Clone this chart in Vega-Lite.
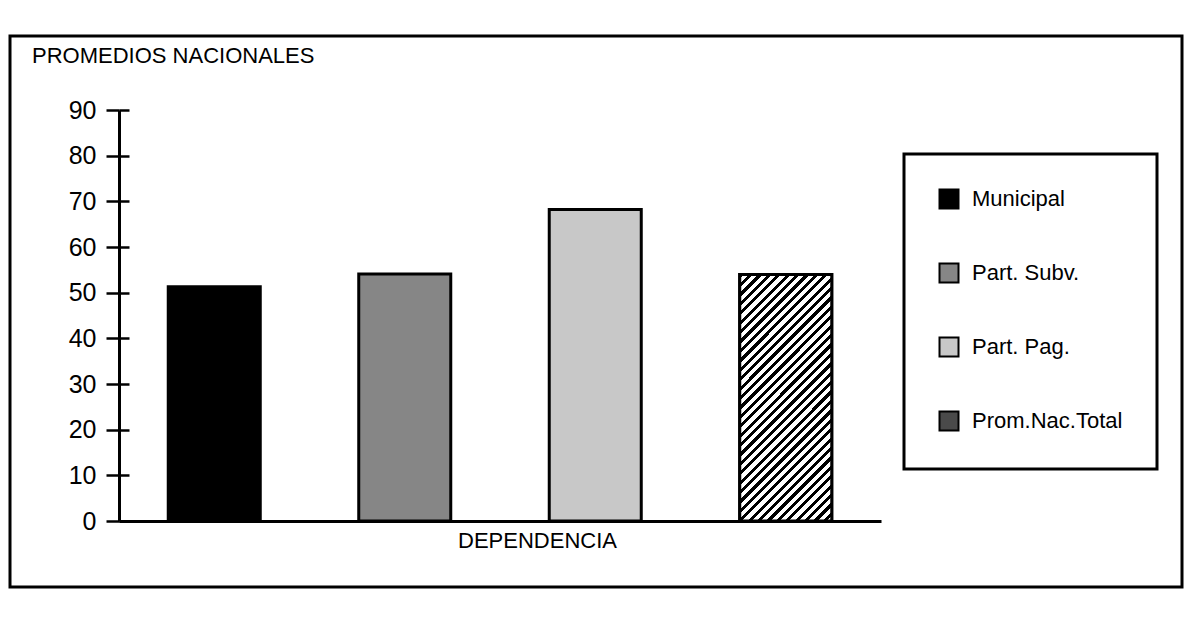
{
  "$schema": "https://vega.github.io/schema/vega-lite/v6.json",
  "width": 1172,
  "height": 551,
  "autosize": {"type": "none"},
  "padding": {"left": 10, "top": 36, "right": 12, "bottom": 32},
  "background": "white",
  "title": {"text": "PROMEDIOS NACIONALES", "anchor": "start", "frame": "group", "orient": "top", "offset": 0, "dx": 22, "dy": 54, "fontSize": 22, "font": "Liberation Sans", "fontWeight": "normal", "color": "black", "baseline": "bottom"},
  "data": {"values": [
    {"dependencia": "Municipal", "promedio": 51.3},
    {"dependencia": "Part. Subv.", "promedio": 54.1},
    {"dependencia": "Part. Pag.", "promedio": 68.2},
    {"dependencia": "Prom.Nac.Total", "promedio": 54.0}
  ]},
  "layer": [
    {
      "mark": {"type": "bar", "stroke": "black", "strokeWidth": 3, "opacity": 1},
      "encoding": {
        "x": {"field": "dependencia", "type": "nominal", "sort": null,
          "scale": {"range": [109, 871], "paddingInner": 0.517, "paddingOuter": 0.2585},
          "axis": {"orient": "bottom", "offset": -66, "labels": false, "ticks": false, "domain": true, "domainColor": "black", "domainWidth": 3, "grid": false,
            "title": "DEPENDENCIA", "titleX": 527, "titleY": 19, "titleBaseline": "middle", "titleAlign": "center", "titleFontSize": 22, "titleFontWeight": "normal", "titleFont": "Liberation Sans", "titleColor": "black"}},
        "y": {"field": "promedio", "type": "quantitative",
          "scale": {"domain": [0, 90], "range": [485, 74], "nice": false},
          "axis": {"orient": "left", "offset": -109, "values": [0, 10, 20, 30, 40, 50, 60, 70, 80, 90], "tickSize": 13, "tickWidth": 2.5, "tickColor": "black", "domainColor": "black", "domainWidth": 3, "labelFontSize": 25, "labelPadding": 10, "labelColor": "black", "labelFont": "Liberation Sans", "title": null, "grid": false}},
        "color": {"field": "dependencia", "type": "nominal",
          "scale": {"domain": ["Municipal", "Part. Subv.", "Part. Pag.", "Prom.Nac.Total"],
            "range": ["#000000", "#868686", "#c8c8c8", "#4a4a4a"]},
          "legend": {"title": null, "orient": "none", "legendX": 894, "legendY": 118, "padding": 34, "rowPadding": 46, "strokeColor": "black", "symbolType": "square", "symbolSize": 361, "symbolStrokeColor": "black", "symbolStrokeWidth": 2, "symbolOpacity": 1, "labelFontSize": 22, "labelFont": "Liberation Sans", "labelColor": "black", "labelOffset": 12, "labelLimit": 300, "direction": "vertical"}}
      }
    },
    {
      "transform": [{"filter": "datum.dependencia == 'Prom.Nac.Total'"}],
      "mark": {"type": "bar", "stroke": "black", "strokeWidth": 3,
        "fill": {"gradient": "linear", "x1": 0, "y1": 0, "x2": 0.45, "y2": 1.205, "stops": [
                {"offset": 0, "color": "#000"}, {"offset": 0.0125, "color": "#000"}, {"offset": 0.0125, "color": "#fff"}, {"offset": 0.02778, "color": "#fff"},
                {"offset": 0.02778, "color": "#000"}, {"offset": 0.04028, "color": "#000"}, {"offset": 0.04028, "color": "#fff"}, {"offset": 0.05556, "color": "#fff"},
                {"offset": 0.05556, "color": "#000"}, {"offset": 0.06806, "color": "#000"}, {"offset": 0.06806, "color": "#fff"}, {"offset": 0.08333, "color": "#fff"},
                {"offset": 0.08333, "color": "#000"}, {"offset": 0.09583, "color": "#000"}, {"offset": 0.09583, "color": "#fff"}, {"offset": 0.11111, "color": "#fff"},
                {"offset": 0.11111, "color": "#000"}, {"offset": 0.12361, "color": "#000"}, {"offset": 0.12361, "color": "#fff"}, {"offset": 0.13889, "color": "#fff"},
                {"offset": 0.13889, "color": "#000"}, {"offset": 0.15139, "color": "#000"}, {"offset": 0.15139, "color": "#fff"}, {"offset": 0.16667, "color": "#fff"},
                {"offset": 0.16667, "color": "#000"}, {"offset": 0.17917, "color": "#000"}, {"offset": 0.17917, "color": "#fff"}, {"offset": 0.19444, "color": "#fff"},
                {"offset": 0.19444, "color": "#000"}, {"offset": 0.20694, "color": "#000"}, {"offset": 0.20694, "color": "#fff"}, {"offset": 0.22222, "color": "#fff"},
                {"offset": 0.22222, "color": "#000"}, {"offset": 0.23472, "color": "#000"}, {"offset": 0.23472, "color": "#fff"}, {"offset": 0.25, "color": "#fff"},
                {"offset": 0.25, "color": "#000"}, {"offset": 0.2625, "color": "#000"}, {"offset": 0.2625, "color": "#fff"}, {"offset": 0.27778, "color": "#fff"},
                {"offset": 0.27778, "color": "#000"}, {"offset": 0.29028, "color": "#000"}, {"offset": 0.29028, "color": "#fff"}, {"offset": 0.30556, "color": "#fff"},
                {"offset": 0.30556, "color": "#000"}, {"offset": 0.31806, "color": "#000"}, {"offset": 0.31806, "color": "#fff"}, {"offset": 0.33333, "color": "#fff"},
                {"offset": 0.33333, "color": "#000"}, {"offset": 0.34583, "color": "#000"}, {"offset": 0.34583, "color": "#fff"}, {"offset": 0.36111, "color": "#fff"},
                {"offset": 0.36111, "color": "#000"}, {"offset": 0.37361, "color": "#000"}, {"offset": 0.37361, "color": "#fff"}, {"offset": 0.38889, "color": "#fff"},
                {"offset": 0.38889, "color": "#000"}, {"offset": 0.40139, "color": "#000"}, {"offset": 0.40139, "color": "#fff"}, {"offset": 0.41667, "color": "#fff"},
                {"offset": 0.41667, "color": "#000"}, {"offset": 0.42917, "color": "#000"}, {"offset": 0.42917, "color": "#fff"}, {"offset": 0.44444, "color": "#fff"},
                {"offset": 0.44444, "color": "#000"}, {"offset": 0.45694, "color": "#000"}, {"offset": 0.45694, "color": "#fff"}, {"offset": 0.47222, "color": "#fff"},
                {"offset": 0.47222, "color": "#000"}, {"offset": 0.48472, "color": "#000"}, {"offset": 0.48472, "color": "#fff"}, {"offset": 0.5, "color": "#fff"},
                {"offset": 0.5, "color": "#000"}, {"offset": 0.5125, "color": "#000"}, {"offset": 0.5125, "color": "#fff"}, {"offset": 0.52778, "color": "#fff"},
                {"offset": 0.52778, "color": "#000"}, {"offset": 0.54028, "color": "#000"}, {"offset": 0.54028, "color": "#fff"}, {"offset": 0.55556, "color": "#fff"},
                {"offset": 0.55556, "color": "#000"}, {"offset": 0.56806, "color": "#000"}, {"offset": 0.56806, "color": "#fff"}, {"offset": 0.58333, "color": "#fff"},
                {"offset": 0.58333, "color": "#000"}, {"offset": 0.59583, "color": "#000"}, {"offset": 0.59583, "color": "#fff"}, {"offset": 0.61111, "color": "#fff"},
                {"offset": 0.61111, "color": "#000"}, {"offset": 0.62361, "color": "#000"}, {"offset": 0.62361, "color": "#fff"}, {"offset": 0.63889, "color": "#fff"},
                {"offset": 0.63889, "color": "#000"}, {"offset": 0.65139, "color": "#000"}, {"offset": 0.65139, "color": "#fff"}, {"offset": 0.66667, "color": "#fff"},
                {"offset": 0.66667, "color": "#000"}, {"offset": 0.67917, "color": "#000"}, {"offset": 0.67917, "color": "#fff"}, {"offset": 0.69444, "color": "#fff"},
                {"offset": 0.69444, "color": "#000"}, {"offset": 0.70694, "color": "#000"}, {"offset": 0.70694, "color": "#fff"}, {"offset": 0.72222, "color": "#fff"},
                {"offset": 0.72222, "color": "#000"}, {"offset": 0.73472, "color": "#000"}, {"offset": 0.73472, "color": "#fff"}, {"offset": 0.75, "color": "#fff"},
                {"offset": 0.75, "color": "#000"}, {"offset": 0.7625, "color": "#000"}, {"offset": 0.7625, "color": "#fff"}, {"offset": 0.77778, "color": "#fff"},
                {"offset": 0.77778, "color": "#000"}, {"offset": 0.79028, "color": "#000"}, {"offset": 0.79028, "color": "#fff"}, {"offset": 0.80556, "color": "#fff"},
                {"offset": 0.80556, "color": "#000"}, {"offset": 0.81806, "color": "#000"}, {"offset": 0.81806, "color": "#fff"}, {"offset": 0.83333, "color": "#fff"},
                {"offset": 0.83333, "color": "#000"}, {"offset": 0.84583, "color": "#000"}, {"offset": 0.84583, "color": "#fff"}, {"offset": 0.86111, "color": "#fff"},
                {"offset": 0.86111, "color": "#000"}, {"offset": 0.87361, "color": "#000"}, {"offset": 0.87361, "color": "#fff"}, {"offset": 0.88889, "color": "#fff"},
                {"offset": 0.88889, "color": "#000"}, {"offset": 0.90139, "color": "#000"}, {"offset": 0.90139, "color": "#fff"}, {"offset": 0.91667, "color": "#fff"},
                {"offset": 0.91667, "color": "#000"}, {"offset": 0.92917, "color": "#000"}, {"offset": 0.92917, "color": "#fff"}, {"offset": 0.94444, "color": "#fff"},
                {"offset": 0.94444, "color": "#000"}, {"offset": 0.95694, "color": "#000"}, {"offset": 0.95694, "color": "#fff"}, {"offset": 0.97222, "color": "#fff"},
                {"offset": 0.97222, "color": "#000"}, {"offset": 0.98472, "color": "#000"}, {"offset": 0.98472, "color": "#fff"}, {"offset": 1, "color": "#fff"}
              ]}},
      "encoding": {
        "x": {"field": "dependencia", "type": "nominal", "sort": null, "axis": null},
        "y": {"field": "promedio", "type": "quantitative", "axis": null}
      }
    },
    {
      "mark": {"type": "rule", "opacity": 0},
      "encoding": {
        "y": {"field": "promedio", "type": "quantitative",
          "axis": {"orient": "right", "offset": -1063, "values": [0, 10, 20, 30, 40, 50, 60, 70, 80, 90], "labels": false, "domain": false, "tickSize": 10, "tickWidth": 2.5, "tickColor": "black", "title": null, "grid": false}}
      }
    }
  ],
  "resolve": {"axis": {"y": "independent", "x": "independent"}},
  "config": {
    "font": "Liberation Sans",
    "view": {"stroke": "black", "strokeWidth": 3},
    "legend": {"strokeWidth": 3}
  }
}
